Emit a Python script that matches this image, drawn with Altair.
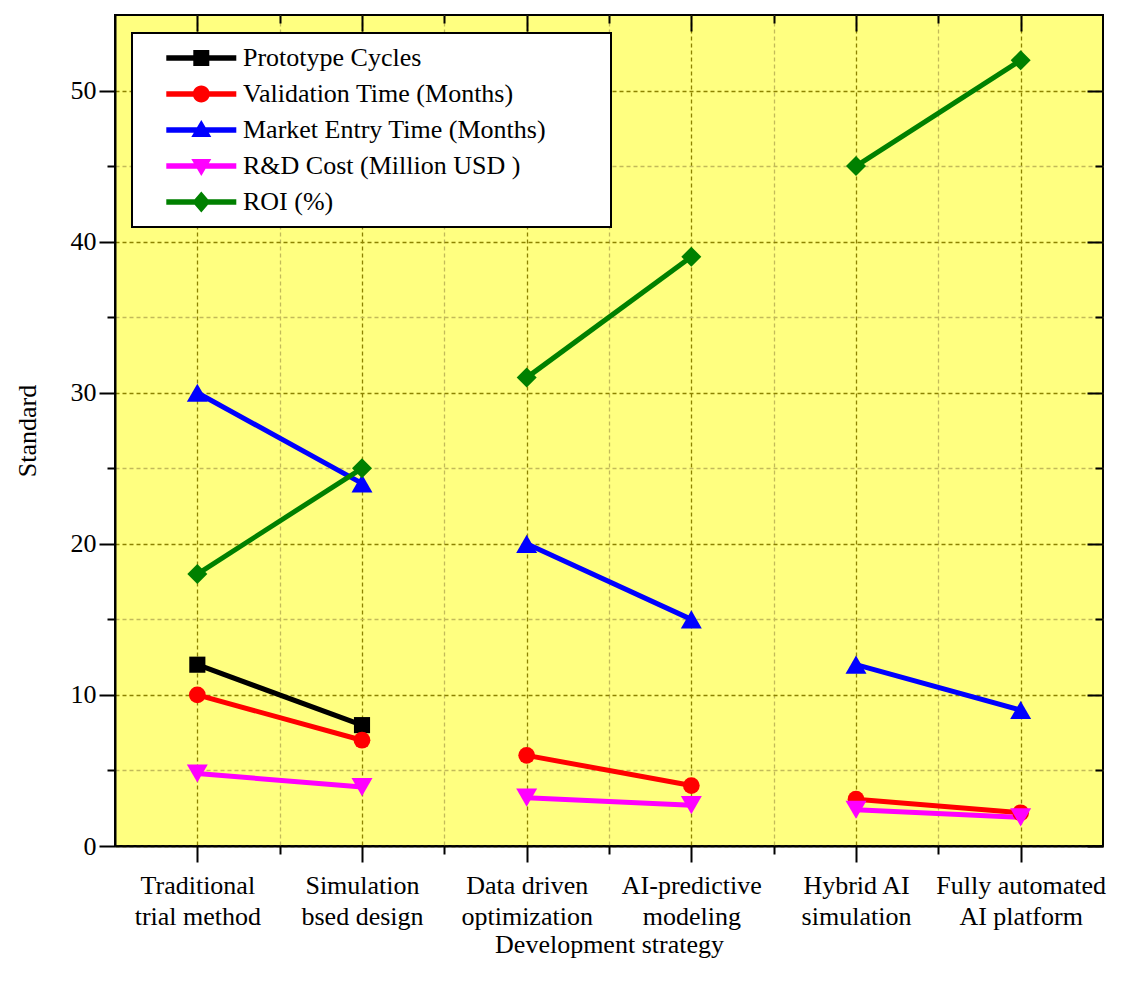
import altair as alt
import pandas as pd

# ---------------- data ----------------
categories = [
    ["Traditional", "trial method"],
    ["Simulation", "bsed design"],
    ["Data driven", "optimization"],
    ["AI-predictive", "modeling"],
    ["Hybrid AI", "simulation"],
    ["Fully automated", "AI platform"],
]
positions = [1, 2, 3, 4, 5, 6]
segments = [1, 1, 2, 2, 3, 3]

series_names = [
    "Prototype Cycles",
    "Validation  Time (Months)",
    "Market Entry Time (Months)",
    "R&D Cost (Million USD )",
    "ROI (%)",
]
prototype_cycles = [12, 8, None, None, None, None]
validation_time = [10, 7, 6, 4, 3.1, 2.2]
market_entry = [30, 24, 20, 15, 12, 9]
rd_cost = [4.8, 3.9, 3.2, 2.7, 2.4, 1.9]
roi = [18, 25, 31, 39, 45, 52]

colors = ["#000000", "#FF0000", "#0000FF", "#FF00FF", "#008000"]
shapes = ["square", "circle", "triangle-up", "triangle-down", "diamond"]
marker_sizes = [260, 280, 440, 440, 400]

# legend symbols: line stub + marker (custom SVG paths); the trailing
# zero-length sub-path only widens the legend frame
line_part = "M0.93,-0.27H7.93V0.27H0.93Z"
frame_pad = "M44.2,0Z"
legend_paths = [
    line_part + "M3.63,-0.8H5.23V0.8H3.63Z" + frame_pad,
    line_part + "M5.28,0A0.85,0.85 0 1 1 3.58,0A0.85,0.85 0 1 1 5.28,0Z" + frame_pad,
    line_part + "M4.43,-1L5.43,0.7L3.43,0.7Z" + frame_pad,
    line_part + "M4.43,1L3.43,-0.7L5.43,-0.7Z" + frame_pad,
    line_part + "M4.43,-1.05L5.33,0L4.43,1.05L3.53,0Z" + frame_pad,
]

values_all = [prototype_cycles, validation_time, market_entry, rd_cost, roi]
rows = []
for name, vals in zip(series_names, values_all):
    for p, s, v in zip(positions, segments, vals):
        if v is not None:
            rows.append({"series": name, "pos": p, "seg": s, "value": v})
df = pd.DataFrame(rows)

FONT = "Liberation Serif"

parts = []
for p, lines in zip(positions, categories):
    arr = "[" + ",".join("'" + l + "'" for l in lines) + "]"
    parts.append(f"datum.value === {p} ? {arr}")
x_label_expr = " : ".join(parts) + " : ''"

x_minor_major = [1, 1.5, 2, 2.5, 3, 3.5, 4, 4.5, 5, 5.5, 6]
y_minor_major = [0, 5, 10, 15, 20, 25, 30, 35, 40, 45, 50]

xscale = alt.Scale(domain=[0.5, 6.5], nice=False, zero=False)
yscale = alt.Scale(domain=[0, 55], nice=False)
# colour scale for the drawn marks: data-driven (sorted) domain
sorted_names = sorted(series_names)
cscale = alt.Scale(range=[colors[series_names.index(n)] for n in sorted_names])
# legend scales: explicit order
fscale = alt.Scale(domain=series_names, range=colors)
legend_shape_scale = alt.Scale(domain=series_names, range=legend_paths)

major_test = "datum.value % 1 === 0"
ymajor_test = "datum.value % 10 === 0"
GRID_MAJOR = "#8C8200"
GRID_MINOR = "#C2BA5A"

x_axis_main = alt.Axis(
    orient="bottom",
    values=x_minor_major,
    title="Development strategy",
    labelExpr=x_label_expr,
    labelFont=FONT, labelFontSize=26, labelColor="black",
    labelLineHeight=31, labelPadding=10, labelAngle=0,
    labelOverlap=False, labelBound=False, labelFlush=False,
    titleFont=FONT, titleFontSize=26, titleFontWeight="normal",
    titleColor="black", titlePadding=2,
    tickSize={"condition": {"test": major_test, "value": 16}, "value": 8},
    tickColor="black", tickWidth=2,
    domainColor="black", domainWidth=2,
    grid=True,
    gridColor={"condition": {"test": major_test, "value": GRID_MAJOR}, "value": GRID_MINOR},
    gridDash=[4, 3], gridWidth=1.3,
)
y_axis_main = alt.Axis(
    orient="left",
    values=y_minor_major,
    title="Standard",
    labelExpr="datum.value % 10 === 0 ? datum.label : ''",
    labelFont=FONT, labelFontSize=26, labelColor="black", labelPadding=3,
    labelOverlap=False,
    titleFont=FONT, titleFontSize=26, titleFontWeight="normal",
    titleColor="black", titlePadding=30,
    tickSize={"condition": {"test": ymajor_test, "value": 16}, "value": 8},
    tickColor="black", tickWidth=2,
    domainColor="black", domainWidth=2,
    grid=True,
    gridColor={"condition": {"test": ymajor_test, "value": GRID_MAJOR}, "value": GRID_MINOR},
    gridDash=[4, 3], gridWidth=1.3,
)

legend = alt.Legend(
    orient="none", legendX=17, legendY=18, title=None,
    labelFont=FONT, labelFontSize=26, labelColor="black", labelLimit=1000,
    symbolSize=400, symbolStrokeWidth=0, symbolOpacity=1, labelOffset=73,
    padding=12, rowPadding=10,
    strokeColor="black", fillColor="white",
)

base = alt.Chart(df)

lines = base.mark_line(strokeWidth=5).encode(
    x=alt.X("pos:Q", scale=xscale, axis=x_axis_main),
    y=alt.Y("value:Q", scale=yscale, axis=y_axis_main),
    color=alt.Color("series:N", scale=cscale, legend=None),
    detail="seg:N",
)

point_layers = []
for name, shp, sz in zip(series_names, shapes, marker_sizes):
    point_layers.append(
        base.transform_filter(alt.datum.series == name)
        .mark_point(shape=shp, filled=True, size=sz, opacity=1, strokeWidth=0)
        .encode(
            x=alt.X("pos:Q", scale=xscale, axis=None),
            y=alt.Y("value:Q", scale=yscale, axis=None),
            color=alt.Color("series:N", scale=cscale, legend=None),
        )
    )

# legend carrier (zero-size marks) + top/right major ticks
legend_layer = base.mark_point(filled=True, size=0).encode(
    x=alt.X("pos:Q", scale=xscale, axis=alt.Axis(
        orient="top", values=positions, labels=False, domain=False, grid=False,
        title=None, tickSize=16, tickColor="black", tickWidth=2, offset=-16)),
    y=alt.Y("value:Q", scale=yscale, axis=alt.Axis(
        orient="right", values=[0, 10, 20, 30, 40, 50], labels=False, domain=False,
        grid=False, title=None, tickSize=16, tickColor="black", tickWidth=2, offset=-16)),
    fill=alt.Fill("series:N", scale=fscale, legend=legend),
    shape=alt.Shape("series:N", scale=legend_shape_scale, legend=legend),
)

minor = base.mark_point(opacity=0).encode(
    x=alt.X("pos:Q", scale=xscale, axis=alt.Axis(
        orient="top", values=[1.5, 2.5, 3.5, 4.5, 5.5], labels=False, domain=False,
        grid=False, title=None, tickSize=8, tickColor="black", tickWidth=2, offset=-8)),
    y=alt.Y("value:Q", scale=yscale, axis=alt.Axis(
        orient="right", values=[5, 15, 25, 35, 45], labels=False, domain=False,
        grid=False, title=None, tickSize=8, tickColor="black", tickWidth=2, offset=-8)),
)

chart = (
    alt.layer(lines, *point_layers, legend_layer, minor)
    .resolve_axis(x="independent", y="independent")
    .properties(
        width=988, height=831,
        autosize=alt.AutoSizeParams(type="none"),
        padding={"left": 107, "top": 7, "right": 30, "bottom": 130},
        background="white",
    )
    .configure_view(fill="#FFFF80", stroke="black", strokeWidth=2)
    .configure_legend(strokeWidth=2)
)

chart.save("out.html", embed_options={"renderer": "svg", "actions": False})
